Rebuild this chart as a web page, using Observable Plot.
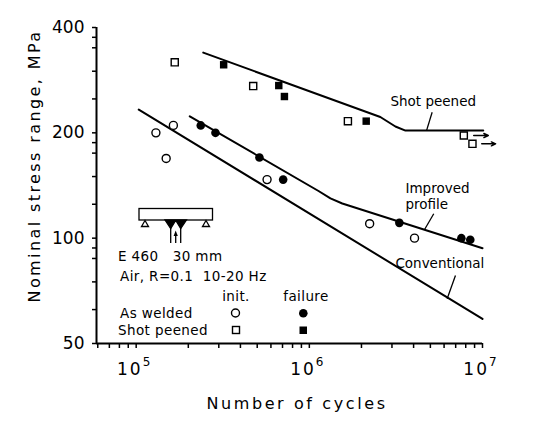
<!DOCTYPE html>
<html><head><meta charset="utf-8">
<script src="https://cdn.jsdelivr.net/npm/d3@7"></script>
<script src="https://cdn.jsdelivr.net/npm/@observablehq/plot@0.6"></script>
<style>
body{margin:0;background:#fff;}
#chart{width:540px;height:430px;}
svg{font-family:"DejaVu Sans",sans-serif;}
</style></head><body><div id="chart"></div>
<script>
// ---- axes ----
const xDomain = [5.9e4, 1e7];
const yDomain = [50, 400];
const xTicks = [6e4,7e4,8e4,9e4,1e5,2e5,3e5,4e5,5e5,6e5,7e5,8e5,9e5,1e6,2e6,3e6,4e6,5e6,6e6,7e6,8e6,9e6,1e7];
const xLabelValues = [1e5, 1e6, 1e7];
const xLabelExp = ["5", "6", "7"];
const yTicks = [50,62.5,75,87.5,93.75,100,125,150,175,187.5,200,250,300,350,375,400];
const yLabelValues = [50, 100, 200, 400];

// ---- data: As welded ----
const weldedInitN = [1.30e5, 1.49e5, 1.64e5, 5.7e5, 2.23e6, 4.05e6];
const weldedInitS = [200, 169, 210, 147, 110, 100];
const weldedFailN = [2.36e5, 2.87e5, 5.15e5, 7.06e5, 3.31e6, 7.55e6, 8.5e6];
const weldedFailS = [210, 200, 170, 147, 110.6, 100, 99];
// ---- data: Shot peened ----
const peenedInitN = [1.67e5, 4.74e5, 1.67e6, 7.8e6, 8.75e6];
const peenedInitS = [318, 272, 216, 196.5, 186];
const peenedFailN = [3.2e5, 6.66e5, 7.18e5, 2.13e6];
const peenedFailS = [313, 273, 254, 216];
// run-outs
const runoutFromN = [8.9e6, 9.9e6];
const runoutToN = [1.08e7, 1.19e7];
const runoutS = [196.5, 186];

// ---- design curves ----
const shotN = [2.44e5, 2.57e6, 3.14e6, 3.59e6, 1.01e7];
const shotS = [339, 222, 208.5, 203, 203];
const improvedN = [2.04e5, 1.13e6, 1.324e6, 1.55e6, 1e7];
const improvedS = [223, 136.4, 129.9, 125.6, 93.6];
const conventionalN = [1.035e5, 1e7];
const conventionalS = [233, 58.8];

// ---- curve labels ----
const curveLabels = ["Shot peened", "Improved\nprofile", "Conventional"];
const curveLabelN = [2.94e6, 3.59e6, 3.14e6];
const curveLabelS = [247.5, 132.4, 85.2];
const leaderN1 = [5.12e6, 5.23e6, 6.98e6];
const leaderS1 = [229.1, 117.4, 78.2];
const leaderN2 = [4.75e6, 4.62e6, 6.25e6];
const leaderS2 = [203, 105.7, 67.1];

const zip = (N, S) => N.map((n, i) => ({n, s: S[i]}));

const curves = [
  zip(shotN, shotS), zip(improvedN, improvedS), zip(conventionalN, conventionalS)
];
const labels = curveLabels.map((t, i) => ({t, n: curveLabelN[i], s: curveLabelS[i]}));
const leaders = leaderN1.map((n, i) => ({n1: n, s1: leaderS1[i], n2: leaderN2[i], s2: leaderS2[i]}));
const runouts = runoutFromN.map((n, i) => ({n1: n, n2: runoutToN[i], s: runoutS[i]}));

const plot = Plot.plot({
  width: 540, height: 430,
  marginLeft: 96, marginRight: 58, marginTop: 27, marginBottom: 87,
  style: {fontFamily: "DejaVu Sans, sans-serif", background: "#fff", color: "#000"},
  x: {type: "log", domain: xDomain},
  y: {type: "log", domain: yDomain},
  marks: [
    Plot.axisX({ticks: xTicks, tickSize: 5, tickFormat: () => "", strokeWidth: 1.5, label: null}),
    Plot.axisY({ticks: yTicks, tickSize: 4, strokeWidth: 1.5, tickPadding: 8, fontSize: 17, label: null,
      tickFormat: d => yLabelValues.includes(d) ? String(d) : ""}),
    Plot.ruleY([yDomain[0]], {stroke: "#000", strokeWidth: 2}),
    Plot.ruleX([xDomain[0]], {stroke: "#000", strokeWidth: 2}),
    ...curves.map(c => Plot.line(c, {x: "n", y: "s", stroke: "#000", strokeWidth: 2, strokeLinejoin: "round"})),
    Plot.link(leaders, {x1: "n1", y1: "s1", x2: "n2", y2: "s2", stroke: "#000", strokeWidth: 1.3}),
    Plot.text(labels, {x: "n", y: "s", text: "t", textAnchor: "start", fontSize: 13.5, lineHeight: 1.2, fill: "#000"}),
    Plot.arrow(runouts, {x1: "n1", x2: "n2", y1: "s", y2: "s", stroke: "#000", strokeWidth: 1.5, headLength: 6, headAngle: 50}),
    Plot.dot(zip(weldedInitN, weldedInitS), {x: "n", y: "s", r: 4, stroke: "#000", strokeWidth: 1.4, fill: "#fff"}),
    Plot.dot(zip(weldedFailN, weldedFailS), {x: "n", y: "s", r: 4.3, fill: "#000", stroke: "none"}),
    Plot.dot(zip(peenedInitN, peenedInitS), {x: "n", y: "s", r: 4, symbol: "square", stroke: "#000", strokeWidth: 1.4, fill: "#fff"}),
    Plot.dot(zip(peenedFailN, peenedFailS), {x: "n", y: "s", r: 4.2, symbol: "square", fill: "#000", stroke: "none"})
  ]
});
document.getElementById("chart").appendChild(plot);

const svg = d3.select(plot);
const sx = plot.scale("x");
// decade labels with superscripts
xLabelValues.forEach((v, i) => {
  const t = svg.append("text").attr("x", sx.apply(v) - 2).attr("y", 375)
    .attr("text-anchor", "middle").attr("font-size", 17).attr("letter-spacing", 2).attr("fill", "#000");
  t.append("tspan").text("10");
  t.append("tspan").attr("dy", -9).attr("font-size", 12).attr("letter-spacing", 0).text(xLabelExp[i]);
});
// axis titles
svg.append("text").attr("x", 297).attr("y", 403).attr("text-anchor", "middle").attr("dominant-baseline", "central")
  .attr("font-size", 16).attr("letter-spacing", 2.6).attr("fill", "#000").text("Number of cycles");
svg.append("text").attr("transform", "translate(34,166) rotate(-90)").attr("text-anchor", "middle")
  .attr("dominant-baseline", "central").attr("font-size", 16).attr("letter-spacing", 2.4).attr("fill", "#000")
  .text("Nominal stress range, MPa");

// specimen sketch
const g = svg.append("g").attr("stroke", "#000").attr("stroke-width", 1.3);
g.append("rect").attr("x", 139).attr("y", 208.5).attr("width", 73.5).attr("height", 11.5).attr("fill", "#fff");
[145, 206].forEach(cx => g.append("path").attr("fill", "#fff")
  .attr("d", `M${cx},220.5L${cx-3.5},226.5L${cx+3.5},226.5Z`));
g.append("path").attr("fill", "#000").attr("d", "M165,220L176,220L170.7,228.5Z M175.5,220L186.5,220L180.7,228.5Z");
g.append("path").attr("fill", "none").attr("d", "M170.7,226V243 M180.7,226V243 M175.7,243V235");
g.append("path").attr("fill", "#000").attr("stroke", "none").attr("d", "M175.7,230.5L173.6,236L177.8,236Z");

// legend / conditions text
const txt = (x, y, s, anchor = "start") => svg.append("text").attr("x", x).attr("y", y)
  .attr("dominant-baseline", "central").attr("text-anchor", anchor).attr("font-size", 13.5)
  .attr("letter-spacing", 0.4).attr("fill", "#000").text(s);
txt(118, 256, "E 460   30 mm");
txt(120, 276, "Air, R=0.1  10-20 Hz");
txt(236, 296, "init.", "middle");
txt(306, 296, "failure", "middle");
txt(120, 313, "As welded");
txt(118, 330, "Shot peened");
svg.append("circle").attr("cx", 235.5).attr("cy", 313).attr("r", 4).attr("fill", "#fff").attr("stroke", "#000").attr("stroke-width", 1.4);
svg.append("circle").attr("cx", 303.3).attr("cy", 313.3).attr("r", 4.3).attr("fill", "#000");
svg.append("rect").attr("x", 232.5).attr("y", 326.5).attr("width", 7).attr("height", 7).attr("fill", "#fff").attr("stroke", "#000").attr("stroke-width", 1.4);
svg.append("rect").attr("x", 299.5).attr("y", 326.5).attr("width", 7.5).attr("height", 7.5).attr("fill", "#000");
</script></body></html>
